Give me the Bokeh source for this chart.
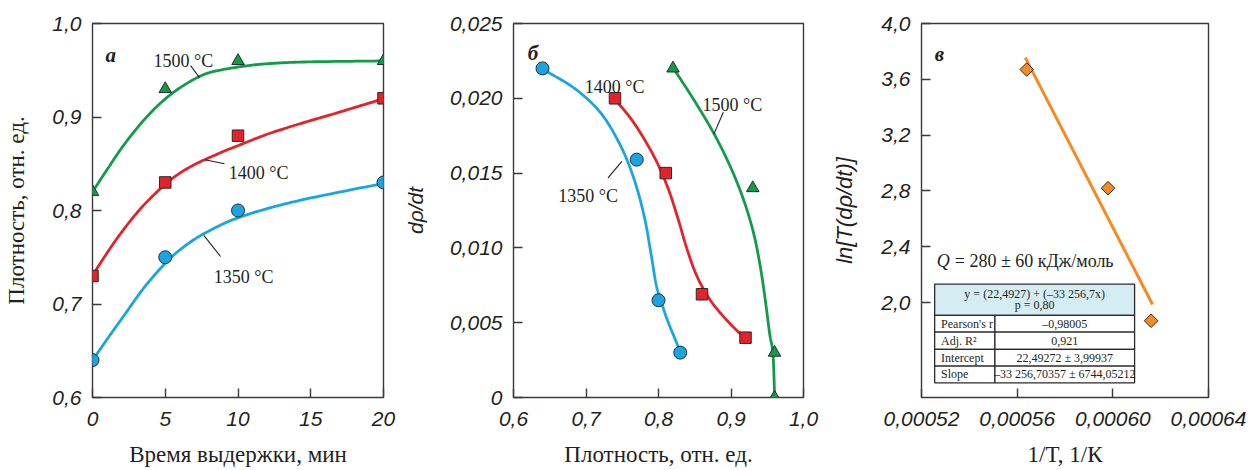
import numpy as np
from bokeh.plotting import figure
from bokeh.layouts import row
from bokeh.models import Range1d, FixedTicker
from bokeh.core.properties import value
from bokeh.embed import file_html
from bokeh.resources import INLINE

# ---------------- data ----------------
# (a) density vs. holding time
time_min = [0, 5, 10, 20]
dens_1350 = [0.64, 0.75, 0.80, 0.83]
dens_1400 = [0.73, 0.83, 0.88, 0.92]
dens_1500 = [0.82, 0.93, 0.96, 0.96]

# trend curves (a), control points of the drawn curves
trend_t_1350 = [0, 1.10, 2.25, 3.39, 4.54, 5.68, 7.06, 8.43, 9.81, 12.0, 14.3, 16.6, 20]
trend_1350 = [0.6396, 0.6645, 0.6895, 0.7144, 0.7358, 0.7537, 0.7697, 0.7815, 0.7911, 0.802, 0.811, 0.8185, 0.829]
trend_t_1400 = [0, 1.10, 2.25, 3.39, 4.54, 5.68, 7.06, 8.89, 9.94, 12.0, 14.3, 16.6, 20]
trend_1400 = [0.7305, 0.757, 0.782, 0.8035, 0.8215, 0.8365, 0.8495, 0.8624, 0.869, 0.8815, 0.893, 0.9035, 0.9195]
trend_t_1500 = [0, 1.10, 2.01, 3.16, 4.31, 5.45, 6.60, 7.75, 8.89, 10.72, 12.5, 15.0, 20]
trend_1500 = [0.820, 0.846, 0.867, 0.890, 0.9095, 0.925, 0.937, 0.946, 0.9505, 0.955, 0.9575, 0.959, 0.960]

# (b) densification rate vs. density
rho_1350 = [0.64, 0.77, 0.80, 0.83]
rate_1350 = [0.0220, 0.0159, 0.0065, 0.0030]
rho_1400 = [0.74, 0.81, 0.86, 0.92]
rate_1400 = [0.0200, 0.0150, 0.0069, 0.0040]
rho_1500 = [0.82, 0.93, 0.96, 0.96]
rate_1500 = [0.0220, 0.0140, 0.0030, 0.0]

# trend curves (b), control points of the drawn curves
trend_rho_1350 = [0.6411, 0.6846, 0.7211, 0.7486, 0.7669, 0.7806, 0.7897, 0.7966, 0.8034, 0.8126, 0.8286]
trend_rate_1350 = [0.02192, 0.02065, 0.01897, 0.01674, 0.01451, 0.01205, 0.0096, 0.00759, 0.00647, 0.00513, 0.00324]
trend_rho_1400 = [0.7394, 0.7669, 0.7943, 0.8126, 0.8263, 0.84, 0.8537, 0.872, 0.8949, 0.9177]
trend_rate_1400 = [0.01998, 0.0183, 0.01607, 0.01406, 0.01205, 0.00982, 0.00804, 0.00647, 0.00513, 0.00402]
trend_rho_1500 = [0.8208, 0.8491, 0.8766, 0.8994, 0.9177, 0.9314, 0.9406, 0.9474, 0.9534, 0.9579, 0.9602]
trend_rate_1500 = [0.02199, 0.01987, 0.01763, 0.0154, 0.01317, 0.01094, 0.0087, 0.00647, 0.00424, 0.0029, 0.00004]

# (c) Arrhenius plot
inv_T = [0.000564, 0.000598, 0.000616]
ln_rate = [3.67, 2.82, 1.87]
fit_intercept = 22.4927
fit_slope = -33256.7

fit_header = ["y = (22,4927) + (\u201333 256,7x)", "p = 0,80"]
fit_names = ["Pearson's r", "Adj. R\u00b2", "Intercept", "Slope"]
fit_values = ["\u20130,98005", "0,921", "22,49272 \u00b1 3,99937", "\u201333 256,70357 \u00b1 6744,05212"]

# tick labels
a_xticks = [0, 5, 10, 15, 20]
a_yticks = [0.6, 0.7, 0.8, 0.9, 1.0]
a_ylabels = ["0,6", "0,7", "0,8", "0,9", "1,0"]
b_xticks = [0.6, 0.7, 0.8, 0.9, 1.0]
b_xlabels = ["0,6", "0,7", "0,8", "0,9", "1,0"]
b_yticks = [0.0, 0.005, 0.010, 0.015, 0.020, 0.025]
b_ylabels = ["0", "0,005", "0,010", "0,015", "0,020", "0,025"]
c_xticks = [0.00052, 0.00056, 0.00060, 0.00064]
c_xlabels = ["0,00052", "0,00056", "0,00060", "0,00064"]
c_yticks = [2.0, 2.4, 2.8, 3.2, 3.6, 4.0]
c_ylabels = ["2,0", "2,4", "2,8", "3,2", "3,6", "4,0"]

# ---------------- styling ----------------
INK = "#231f20"
FRAME = "#3a3a3a"
BLUE = "#1ba4e2"
RED = "#e4222a"
GREEN = "#129b49"
ORANGE = "#f58a1f"
SERIF = "Liberation Serif"
SANS = "Liberation Sans"


def make_panel(width, xr, yr, left, right):
    p = figure(width=width, height=470, x_range=Range1d(*xr), y_range=Range1d(*yr),
               output_backend="svg", toolbar_location=None,
               min_border_left=left, min_border_right=right,
               min_border_top=23, min_border_bottom=73)
    p.grid.visible = False
    p.outline_line_color = FRAME
    p.outline_line_width = 1.4
    p.background_fill_color = "white"
    p.border_fill_color = "white"
    for ax in p.axis:
        ax.axis_line_color = None
        ax.major_tick_in = 9
        ax.major_tick_out = 0
        ax.major_tick_line_color = FRAME
        ax.major_tick_line_width = 1.4
        ax.minor_tick_line_color = None
        ax.major_label_text_font = SANS
        ax.major_label_text_font_style = "italic"
        ax.major_label_text_font_size = "21px"
        ax.major_label_text_color = INK
        ax.axis_label_text_font = SERIF
        ax.axis_label_text_font_style = "normal"
        ax.axis_label_text_font_size = "23px"
        ax.axis_label_text_color = INK
    p.xaxis.major_label_standoff = 14
    p.xaxis.axis_label_standoff = 13
    p.yaxis.major_label_standoff = 11
    p.yaxis.axis_label_standoff = 20
    return p


def set_ticks(axis, ticks, labels=None):
    axis.ticker = FixedTicker(ticks=ticks)
    if labels is not None:
        axis.major_label_overrides = {t: l for t, l in zip(ticks, labels)}


def serif_text(p, x, y, txt, size="18px", style="normal", align="left"):
    p.text(x=[x], y=[y], text=[txt], text_font=value(SERIF), text_font_size=size,
           text_font_style=style, text_color=INK, text_align=align,
           text_baseline="alphabetic")


def leader(p, x0, y0, x1, y1):
    p.segment(x0=[x0], y0=[y0], x1=[x1], y1=[y1], line_color=INK, line_width=1.1)


def smooth(xs, ys, xr, yr, steps=14):
    # Catmull-Rom path through the control points, computed in frame-normalised space
    px = (np.asarray(xs, float) - xr[0]) / (xr[1] - xr[0])
    py = (np.asarray(ys, float) - yr[0]) / (yr[1] - yr[0])
    P = np.column_stack([px, py])
    P = np.vstack([2 * P[0] - P[1], P, 2 * P[-1] - P[-2]])
    out = []
    t = np.linspace(0, 1, steps, endpoint=False)[:, None]
    for i in range(1, len(P) - 2):
        p0, p1, p2, p3 = P[i - 1], P[i], P[i + 1], P[i + 2]
        seg = 0.5 * ((2 * p1) + (-p0 + p2) * t + (2 * p0 - 5 * p1 + 4 * p2 - p3) * t ** 2
                     + (-p0 + 3 * p1 - 3 * p2 + p3) * t ** 3)
        out.append(seg)
    out.append(P[-2][None, :])
    out = np.vstack(out)
    return (out[:, 0] * (xr[1] - xr[0]) + xr[0], out[:, 1] * (yr[1] - yr[0]) + yr[0])


def trend(p, xs, ys, xr, yr, color):
    sx, sy = smooth(xs, ys, xr, yr)
    p.line(sx, sy, line_color=color, line_width=2.8)


MARK_EDGE = dict(line_color="#2b2b2b", line_width=1)

# ---------------- (a) ----------------
XA, YA = (0, 20), (0.6, 1.0)
pa = make_panel(400, XA, YA, 92, 17)
set_ticks(pa.xaxis[0], a_xticks)
set_ticks(pa.yaxis[0], a_yticks, a_ylabels)
pa.xaxis.axis_label = "Время выдержки, мин"
pa.yaxis.axis_label = "Плотность, отн. ед."

trend(pa, trend_t_1500, trend_1500, XA, YA, GREEN)
trend(pa, trend_t_1400, trend_1400, XA, YA, RED)
trend(pa, trend_t_1350, trend_1350, XA, YA, BLUE)
pa.scatter(time_min, dens_1500, marker="triangle", size=12.5, fill_color=GREEN, **MARK_EDGE)
pa.scatter(time_min, dens_1400, marker="square", size=11.5, fill_color=RED, **MARK_EDGE)
pa.scatter(time_min, dens_1350, marker="circle", size=13, fill_color=BLUE, **MARK_EDGE)

serif_text(pa, 0.89, 0.9665, "а", size="21px", style="bold italic")
serif_text(pa, 4.19, 0.9594, "1500 °C")
leader(pa, 6.74, 0.955, 7.36, 0.942)
serif_text(pa, 9.36, 0.840, "1400 °C")
leader(pa, 7.72, 0.8542, 9.07, 0.850)
serif_text(pa, 8.34, 0.7294, "1350 °C")
leader(pa, 7.65, 0.7733, 8.80, 0.7508)

# ---------------- (b) ----------------
XB, YB = (0.6, 1.0), (0.0, 0.025)
pb = make_panel(429, XB, YB, 112, 26)
set_ticks(pb.xaxis[0], b_xticks, b_xlabels)
set_ticks(pb.yaxis[0], b_yticks, b_ylabels)
pb.xaxis.axis_label = "Плотность, отн. ед."
pb.yaxis.axis_label = "dρ/dt"
pb.yaxis.axis_label_text_font = SANS
pb.yaxis.axis_label_text_font_style = "italic"
pb.yaxis.axis_label_text_font_size = "21px"

trend(pb, trend_rho_1500, trend_rate_1500, XB, YB, GREEN)
trend(pb, trend_rho_1400, trend_rate_1400, XB, YB, RED)
trend(pb, trend_rho_1350, trend_rate_1350, XB, YB, BLUE)
pb.scatter(rho_1500, rate_1500, marker="triangle", size=12.5, fill_color=GREEN, **MARK_EDGE)
pb.scatter(rho_1400, rate_1400, marker="square", size=11.5, fill_color=RED, **MARK_EDGE)
pb.scatter(rho_1350, rate_1350, marker="circle", size=13, fill_color=BLUE, **MARK_EDGE)

serif_text(pb, 0.6196, 0.0230, "б", size="21px", style="bold italic")
serif_text(pb, 0.6982, 0.02074, "1400 °C")
serif_text(pb, 0.8606, 0.01958, "1500 °C")
leader(pb, 0.8765, 0.01762, 0.8894, 0.01907)
serif_text(pb, 0.6617, 0.01349, "1350 °C")
leader(pb, 0.7495, 0.01579, 0.7303, 0.01468)

# ---------------- (c) ----------------
pc = make_panel(428, (0.00052, 0.00064), (1.32, 4.0), 88, 49)
set_ticks(pc.xaxis[0], c_xticks, c_xlabels)
set_ticks(pc.yaxis[0], c_yticks, c_ylabels)
pc.xaxis.axis_label = "1/T, 1/К"
pc.yaxis.axis_label = "ln[T(dρ/dt)]"
pc.yaxis.axis_label_text_font = SANS
pc.yaxis.axis_label_text_font_style = "italic"
pc.yaxis.axis_label_text_font_size = "22px"
pc.yaxis.axis_label_standoff = 21

x_fit = np.array([min(inv_T) - 6e-7, max(inv_T) + 6e-7])
pc.line(x_fit, fit_intercept + fit_slope * x_fit, line_color=ORANGE, line_width=3)
pc.scatter(inv_T, ln_rate, marker="square", angle=np.pi / 4, size=9.6,
           fill_color=ORANGE, **MARK_EDGE)

serif_text(pc, 0.0005255, 3.779, "в", size="21px", style="bold italic")
serif_text(pc, 0.0005264, 2.299, "Q", size="18px", style="italic")
serif_text(pc, 0.0005339, 2.299, "= 280 ± 60 кДж/моль", size="18px")

# fit statistics table
t_left, t_mid, t_right = 0.0005255, 0.0005507, 0.0006091
t_top, t_head = 2.132, 1.909
row_edges = [1.909, 1.789, 1.665, 1.545, 1.425]
pc.quad(left=[t_left], right=[t_right], top=[t_top], bottom=[t_head],
        fill_color="#d4edf3", line_color="#2b2b2b", line_width=1.3)
pc.quad(left=[t_left] * 4, right=[t_mid] * 4, top=row_edges[:-1], bottom=row_edges[1:],
        fill_color="white", line_color="#2b2b2b", line_width=1.3)
pc.quad(left=[t_mid] * 4, right=[t_right] * 4, top=row_edges[:-1], bottom=row_edges[1:],
        fill_color="white", line_color="#2b2b2b", line_width=1.3)
x_head = 0.5 * (t_left + t_right)
pc.text(x=[x_head, x_head], y=[2.064, 1.983], text=fit_header, text_font=value(SERIF),
        text_font_size="12px", text_color=INK, text_align="center", text_baseline="middle")
row_mid = [0.5 * (a + b) for a, b in zip(row_edges[:-1], row_edges[1:])]
pc.text(x=[0.0005282] * 4, y=row_mid, text=fit_names, text_font=value(SERIF),
        text_font_size="12px", text_color=INK, text_align="left", text_baseline="middle")
pc.text(x=[0.5 * (t_mid + t_right)] * 4, y=row_mid, text=fit_values, text_font=value(SERIF),
        text_font_size="12px", text_color=INK, text_align="center", text_baseline="middle")

layout = row(pa, pb, pc)
open("out.html", "w").write(file_html(layout, INLINE))
